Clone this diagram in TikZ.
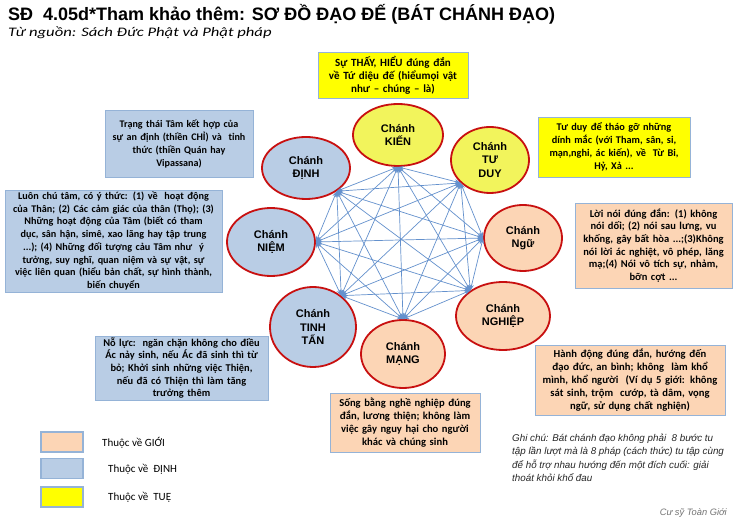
\documentclass[tikz,border=0pt]{standalone}
\usepackage{fontspec}
\setmainfont{Carlito}
\newfontfamily\arialf{Liberation Sans}
\usetikzlibrary{shapes.geometric,arrows.meta}
\definecolor{peach}{RGB}{252,213,181}
\definecolor{lblue}{RGB}{185,205,229}
\definecolor{yel}{RGB}{255,255,0}
\definecolor{cyel}{RGB}{242,244,92}
\definecolor{ored}{RGB}{200,16,16}
\definecolor{bord}{RGB}{149,179,215}
\definecolor{connc}{RGB}{100,145,205}
\begin{document}
\begin{tikzpicture}[x=1pt,y=-1pt,
  circ/.style={ellipse, draw=ored, line width=1.8pt, inner sep=0pt, align=center,
    font=\arialf\bfseries\fontsize{11}{13.5}\selectfont},
  tbox/.style={rectangle, draw=bord, line width=0.8pt, inner xsep=1pt, inner ysep=0pt,
    align=center, font=\bfseries\fontsize{#1}{13}\selectfont},
  tbox/.default=10.3,
  legbox/.style={rectangle, draw=bord, line width=1.2pt, minimum width=42pt, minimum height=20pt, inner sep=0pt},
  legtxt/.style={anchor=west, inner sep=0pt, font=\fontsize{11}{12}\selectfont},
  link/.style={draw=connc, line width=0.7pt, {Stealth[length=6pt,width=4.5pt]}-{Stealth[length=6pt,width=4.5pt]}}]
\useasboundingbox (0,0) rectangle (748,518);
\fill[white] (0,0) rectangle (748,518);
% title
\node[anchor=base west, inner sep=0pt, font=\arialf\bfseries\fontsize{18}{20}\selectfont] (title) at (8,21) {SĐ\ \ 4.05d*Tham khảo thêm: SƠ ĐỒ ĐẠO ĐẾ (BÁT CHÁNH ĐẠO)};
\node[anchor=base west, inner sep=0pt, font=\itshape\fontsize{13}{14}\selectfont] (sub) at (8,37) {\scalebox{1.28}[1]{Từ nguồn: Sách Đức Phật và Phật pháp}};
% circles
\node[circ, fill=cyel, minimum width=90pt, minimum height=62pt] (kien) at (398,135) {Chánh\\KIẾN};
\node[circ, fill=cyel, minimum width=78pt, minimum height=66pt] (tuduy) at (490,160) {Chánh\\TƯ\\DUY};
\node[circ, fill=peach, minimum width=78pt, minimum height=66pt] (ngu) at (523,238) {Chánh\\Ngữ};
\node[circ, fill=peach, minimum width=94pt, minimum height=68pt] (nghiep) at (503,316) {Chánh\\NGHIỆP};
\node[circ, fill=peach, minimum width=84pt, minimum height=68pt] (mang) at (403,354) {Chánh\\MẠNG};
\node[circ, fill=lblue, minimum width=86pt, minimum height=80pt] (tinhtan) at (313,327) {Chánh\\TINH\\TẤN};
\node[circ, fill=lblue, minimum width=88pt, minimum height=68pt] (niem) at (271,242) {Chánh\\NIỆM};
\node[circ, fill=lblue, minimum width=88pt, minimum height=62pt] (dinh) at (306,168) {Chánh\\ĐỊNH};
% anchor points
\coordinate (pk) at (kien.south);
\coordinate (pt) at (tuduy.218);
\coordinate (pg) at (ngu.west);
\coordinate (pp) at (nghiep.142);
\coordinate (pm) at (mang.north);
\coordinate (ps) at (tinhtan.48);
\coordinate (pn) at (niem.east);
\coordinate (pd) at (dinh.323);
\foreach \a/\b in {pk/pt,pk/pg,pk/pp,pk/pm,pk/ps,pk/pn,pk/pd,
  pt/pg,pt/pp,pt/pm,pt/ps,pt/pn,pt/pd,
  pg/pp,pg/pm,pg/ps,pg/pn,pg/pd,
  pp/pm,pp/ps,pp/pn,pp/pd,
  pm/ps,pm/pn,pm/pd,
  ps/pn,ps/pd,
  pn/pd}
  \draw[link] (\a) -- (\b);
% text boxes
\node[tbox=11, fill=yel, text width=148pt, minimum height=46pt] (bkien) at (393,75)
  {Sự THẤY, HIỂU đúng đắn\\về Tứ diệu đế (hiểumọi vật\\như – chúng – là)};
\node[tbox=10.1, fill=lblue, text width=146pt, minimum height=67pt] (bdinh) at (179,143.5)
  {Trạng thái Tâm kết hợp của\\sự an định (thiền CHỈ) và\ \ tỉnh\\thức (thiền Quán hay\\Vipassana)};
\node[tbox=10.3, fill=yel, text width=150pt, minimum height=60pt] (btuduy) at (614,147)
  {Tư duy để tháo gỡ những\\dính mắc (với Tham, sân, si,\\mạn,nghi, ác kiến), về\ \ Từ Bi,\\Hỷ, Xả ...};
\node[tbox=10.2, fill=lblue, text width=215pt, minimum height=102pt, font=\bfseries\fontsize{10.2}{12.7}\selectfont] (bniem) at (113.5,241)
  {Luôn chú tâm, có ý thức: (1) về\ \ hoạt động\\của Thân; (2) Các cảm giác của thân (Thọ); (3)\\Những hoạt động của Tâm (biết có tham\\dục, sân hận, simê, xao lãng hay tập trung\\...); (4) Những đối tượng cảu Tâm như\ \ ý\\tưởng, suy nghĩ, quan niệm và sự vật, sự\\việc liên quan (hiểu bản chất, sự hình thành,\\biến chuyển};
\node[tbox=10.5, fill=peach, text width=155pt, minimum height=85pt, font=\bfseries\fontsize{10.5}{12.7}\selectfont] (bngu) at (653.5,245.5)
  {Lời nói đúng đắn: (1) không\\nói dối; (2) nói sau lưng, vu\\khống, gây bất hòa ...;(3)Không\\nói lời ác nghiệt, vô phép, lăng\\mạ;(4) Nói vô tích sự, nhảm,\\bỡn cợt ...};
\node[tbox=10.4, fill=lblue, text width=171pt, minimum height=64pt, font=\bfseries\fontsize{10.4}{12.7}\selectfont] (btinhtan) at (181.5,368)
  {Nỗ lực:\ \ ngăn chặn không cho điều\\Ác nảy sinh, nếu Ác đã sinh thì từ\\bỏ; Khởi sinh những việc Thiện,\\nếu đã có Thiện thì làm tăng\\trưởng thêm};
\node[tbox=10.6, fill=peach, text width=188pt, minimum height=70pt] (bnghiep) at (630,380)
  {Hành động đúng đắn, hướng đến\\đạo đức, an bình; không\ \ làm khổ\\mình, khổ người\ \ (Ví dụ 5 giới: không\\sát sinh, trộm\ \ cướp, tà dâm, vọng\\ngữ, sử dụng chất nghiện)};
\node[tbox=10.6, fill=peach, text width=148pt, minimum height=59pt] (bmang) at (405,422.5)
  {Sống bằng nghề nghiệp đúng\\đắn, lương thiện; không làm\\việc gây nguy hại cho người\\khác và chúng sinh};
% legend
\node[legbox, fill=peach] (lg1) at (62,442) {};
\node[legbox, fill=lblue] (lg2) at (62,468.5) {};
\node[legbox, fill=yel] (lg3) at (62,497) {};
\node[legtxt] (lt1) at (102,443) {Thuộc về GIỚI};
\node[legtxt] (lt2) at (108,469) {Thuộc về\ \ ĐỊNH};
\node[legtxt] (lt3) at (108,497) {Thuộc về\ \ TUỆ};
% note
\node[anchor=north west, inner sep=0pt, align=left, text=black!85,
  font=\arialf\itshape\fontsize{9.8}{13.3}\selectfont] (note) at (512,434)
  {Ghi chú: Bát chánh đạo không phải\ \ 8 bước tu\\tập lần lượt mà là 8 pháp (cách thức) tu tập cùng\\để hỗ trợ nhau hướng đến một đích cuối: giải\\thoát khỏi khổ đau};
\node[anchor=east, inner sep=0pt, text=black!55, font=\arialf\itshape\fontsize{9.3}{10}\selectfont] (sign) at (727,513) {Cư sỹ Toàn Giới};
\end{tikzpicture}
\end{document}
